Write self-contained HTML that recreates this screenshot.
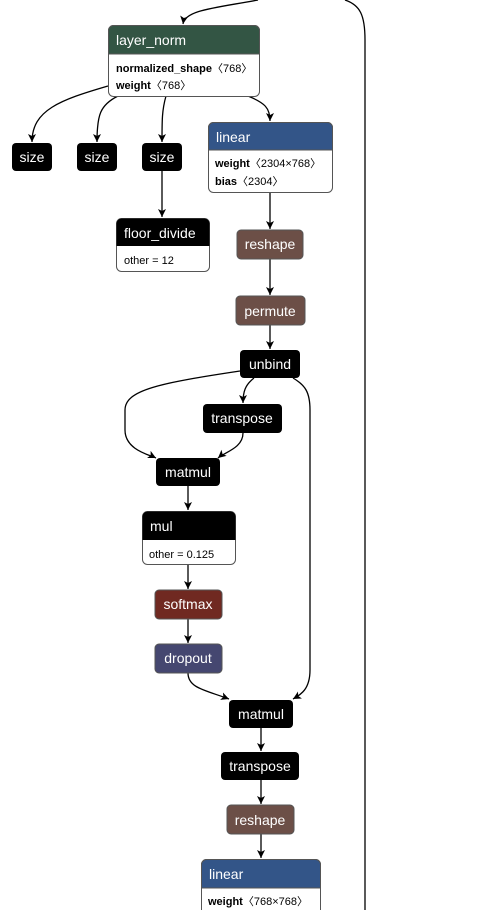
<!DOCTYPE html>
<html><head><meta charset="utf-8"><style>
html,body{margin:0;padding:0;background:#fff;width:496px;height:910px;overflow:hidden}
svg{display:block}
text{font-family:"Liberation Sans",sans-serif}
.t{fill:#fff;font-size:14px}
.a{fill:#000;font-size:11px}
.b{font-weight:bold}
.e{fill:none;stroke:#000;stroke-width:1.3}
.bd{fill:#fff;stroke:#555;stroke-width:1}
</style></head><body>
<svg width="496" height="910" viewBox="0 0 496 910" xmlns="http://www.w3.org/2000/svg">
<defs><marker id="ar" markerWidth="10" markerHeight="10" refX="8" refY="4" orient="auto" markerUnits="userSpaceOnUse"><path d="M0,0 L8,4 L0,8 L2,4 Z" fill="#000"/></marker></defs>
<path class="e" d="M258,0 C215,8 185,10 183,24" marker-end="url(#ar)"/>
<path class="e" d="M345,0 C360,5 365,15 365,40 L365,910"/>
<path class="e" d="M108,86 C60,100 32,110 32,142" marker-end="url(#ar)"/>
<path class="e" d="M118,96 C100,105 97,115 97,142" marker-end="url(#ar)"/>
<path class="e" d="M166,96 C162,110 162,120 162,142" marker-end="url(#ar)"/>
<path class="e" d="M248,96 C265,103 270,108 270,121" marker-end="url(#ar)"/>
<path class="e" d="M162,171 L162,217" marker-end="url(#ar)"/>
<path class="e" d="M270,192 L270,229" marker-end="url(#ar)"/>
<path class="e" d="M270,259 L270,295" marker-end="url(#ar)"/>
<path class="e" d="M270,325 L270,349" marker-end="url(#ar)"/>
<path class="e" d="M240,371 C160,383 125,390 125,410 L125,430 C125,450 150,455 156,458" marker-end="url(#ar)"/>
<path class="e" d="M254,378 C245,385 243,392 243,403" marker-end="url(#ar)"/>
<path class="e" d="M243,433 C243,448 225,452 218,458" marker-end="url(#ar)"/>
<path class="e" d="M293,378 C305,385 310,392 310,410 L310,670 C310,690 300,695 293,699" marker-end="url(#ar)"/>
<path class="e" d="M188,486 L188,510" marker-end="url(#ar)"/>
<path class="e" d="M188,565 L188,589" marker-end="url(#ar)"/>
<path class="e" d="M188,619 L188,643" marker-end="url(#ar)"/>
<path class="e" d="M188,673 C188,688 205,690 229,699" marker-end="url(#ar)"/>
<path class="e" d="M261,728 L261,751" marker-end="url(#ar)"/>
<path class="e" d="M261,780 L261,804" marker-end="url(#ar)"/>
<path class="e" d="M261,834 L261,858" marker-end="url(#ar)"/>
<rect class="bd" x="108.5" y="25.5" width="151" height="71" rx="5"/>
<path d="M108.5,54 V30.5 a5,5 0 0 1 5,-5 H254.5 a5,5 0 0 1 5,5 V54 Z" fill="#335544" stroke="#555"/>
<text class="t" x="116" y="45">layer_norm</text>
<text class="a" x="116" y="72"><tspan class="b">normalized_shape</tspan>〈768〉</text>
<text class="a" x="116" y="89"><tspan class="b">weight</tspan>〈768〉</text>
<rect x="12" y="143" width="40" height="28" rx="4" fill="#000"/><text class="t" x="32" y="162" text-anchor="middle">size</text>
<rect x="77" y="143" width="40" height="28" rx="4" fill="#000"/><text class="t" x="97" y="162" text-anchor="middle">size</text>
<rect x="142" y="143" width="40" height="28" rx="4" fill="#000"/><text class="t" x="162" y="162" text-anchor="middle">size</text>
<rect class="bd" x="208.5" y="122.5" width="124" height="70" rx="5"/>
<path d="M208.5,150 V127.5 a5,5 0 0 1 5,-5 H327.5 a5,5 0 0 1 5,5 V150 Z" fill="#335588" stroke="#555"/>
<text class="t" x="216" y="142">linear</text>
<text class="a" x="215" y="167"><tspan class="b">weight</tspan>〈2304×768〉</text>
<text class="a" x="215" y="185"><tspan class="b">bias</tspan>〈2304〉</text>
<rect class="bd" x="116.5" y="218.5" width="93" height="53" rx="5"/>
<path d="M116.5,246 V223.5 a5,5 0 0 1 5,-5 H204.5 a5,5 0 0 1 5,5 V246 Z" fill="#000"/>
<text class="t" x="124" y="238">floor_divide</text>
<text class="a" x="124" y="264">other = 12</text>
<rect x="237" y="230" width="66" height="29" rx="4" fill="#6c4f47" stroke="#555"/><text class="t" x="270" y="249" text-anchor="middle">reshape</text>
<rect x="236" y="296" width="69" height="29" rx="4" fill="#6c4f47" stroke="#555"/><text class="t" x="270" y="316" text-anchor="middle">permute</text>
<rect x="240" y="350" width="60" height="28" rx="4" fill="#000"/><text class="t" x="270" y="369" text-anchor="middle">unbind</text>
<rect x="203" y="404" width="79" height="29" rx="4" fill="#000"/><text class="t" x="242" y="423" text-anchor="middle">transpose</text>
<rect x="156" y="458" width="64" height="28" rx="4" fill="#000"/><text class="t" x="188" y="477" text-anchor="middle">matmul</text>
<rect class="bd" x="142.5" y="511.5" width="93" height="53" rx="5"/>
<path d="M142.5,540 V516.5 a5,5 0 0 1 5,-5 H230.5 a5,5 0 0 1 5,5 V540 Z" fill="#000"/>
<text class="t" x="150" y="531">mul</text>
<text class="a" x="149" y="558">other = 0.125</text>
<rect x="155" y="590" width="67" height="29" rx="4" fill="#702921" stroke="#555"/><text class="t" x="188" y="609" text-anchor="middle">softmax</text>
<rect x="155" y="644" width="67" height="29" rx="4" fill="#454770" stroke="#555"/><text class="t" x="188" y="663" text-anchor="middle">dropout</text>
<rect x="229" y="700" width="64" height="28" rx="4" fill="#000"/><text class="t" x="261" y="719" text-anchor="middle">matmul</text>
<rect x="221" y="752" width="78" height="28" rx="4" fill="#000"/><text class="t" x="260" y="771" text-anchor="middle">transpose</text>
<rect x="227" y="805" width="67" height="29" rx="4" fill="#6c4f47" stroke="#555"/><text class="t" x="260" y="825" text-anchor="middle">reshape</text>
<rect class="bd" x="201.5" y="859.5" width="119" height="70" rx="5"/>
<path d="M201.5,888 V864.5 a5,5 0 0 1 5,-5 H315.5 a5,5 0 0 1 5,5 V888 Z" fill="#335588" stroke="#555"/>
<text class="t" x="209" y="879">linear</text>
<text class="a" x="208" y="905"><tspan class="b">weight</tspan>〈768×768〉</text>
</svg>
</body></html>
